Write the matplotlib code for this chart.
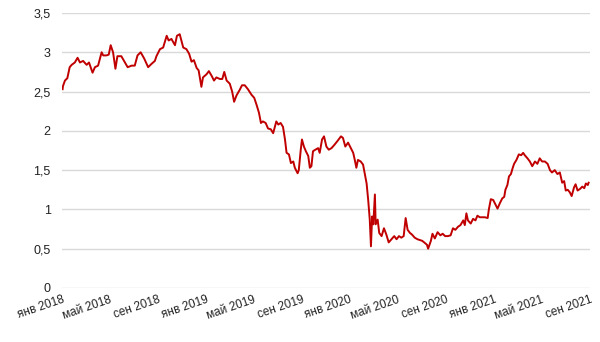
import matplotlib
matplotlib.use("Agg")
import matplotlib.pyplot as plt
import matplotlib.dates as mdates
import pandas as pd

# values
dates = [
    "2018-01-03", "2018-01-04", "2018-01-09", "2018-01-15", "2018-01-21", "2018-01-26",
    "2018-02-03", "2018-02-10", "2018-02-16", "2018-02-24", "2018-03-05", "2018-03-11",
    "2018-03-20", "2018-03-26", "2018-04-03", "2018-04-12", "2018-04-16", "2018-04-24",
    "2018-04-30", "2018-05-05", "2018-05-11", "2018-05-17", "2018-05-22", "2018-06-01",
    "2018-06-10", "2018-06-17", "2018-06-27", "2018-07-05", "2018-07-12", "2018-07-20",
    "2018-07-29", "2018-08-08", "2018-08-16", "2018-08-25", "2018-08-29", "2018-09-07",
    "2018-09-15", "2018-09-24", "2018-09-29", "2018-10-06", "2018-10-15", "2018-10-20",
    "2018-10-27", "2018-11-05", "2018-11-13", "2018-11-20", "2018-11-26", "2018-12-02",
    "2018-12-09", "2018-12-14", "2018-12-21", "2018-12-25", "2019-01-03", "2019-01-09",
    "2019-01-16", "2019-01-22", "2019-01-28", "2019-02-06", "2019-02-12", "2019-02-17",
    "2019-02-23", "2019-03-03", "2019-03-09", "2019-03-14", "2019-03-20", "2019-03-28",
    "2019-04-03", "2019-04-10", "2019-04-18", "2019-04-27", "2019-05-04", "2019-05-10",
    "2019-05-16", "2019-05-21", "2019-05-26", "2019-06-02", "2019-06-08", "2019-06-15",
    "2019-06-21", "2019-06-29", "2019-07-04", "2019-07-10", "2019-07-16", "2019-07-21",
    "2019-07-25", "2019-07-31", "2019-08-05", "2019-08-11", "2019-08-15", "2019-08-22",
    "2019-08-25", "2019-08-30", "2019-09-02", "2019-09-07", "2019-09-12", "2019-09-18",
    "2019-09-22", "2019-09-26", "2019-09-30", "2019-10-06", "2019-10-13", "2019-10-17",
    "2019-10-23", "2019-10-28", "2019-11-03", "2019-11-09", "2019-11-16", "2019-11-23",
    "2019-12-01", "2019-12-10", "2019-12-15", "2019-12-21", "2019-12-28", "2020-01-04",
    "2020-01-10", "2020-01-14", "2020-01-18", "2020-01-22", "2020-01-29", "2020-02-04",
    "2020-02-08", "2020-02-13", "2020-02-17", "2020-02-21", "2020-02-24", "2020-02-27",
    "2020-03-01", "2020-03-05", "2020-03-07", "2020-03-12", "2020-03-16", "2020-03-22",
    "2020-03-28", "2020-04-03", "2020-04-09", "2020-04-16", "2020-04-23", "2020-04-29",
    "2020-05-05", "2020-05-11", "2020-05-17", "2020-05-22", "2020-05-27", "2020-06-02",
    "2020-06-07", "2020-06-14", "2020-06-21", "2020-06-27", "2020-07-03", "2020-07-08",
    "2020-07-15", "2020-07-18", "2020-07-25", "2020-07-29", "2020-08-04", "2020-08-11",
    "2020-08-18", "2020-08-24", "2020-08-30", "2020-09-06", "2020-09-13", "2020-09-19",
    "2020-09-25", "2020-10-02", "2020-10-08", "2020-10-15", "2020-10-19", "2020-10-23",
    "2020-10-27", "2020-11-03", "2020-11-09", "2020-11-15", "2020-11-20", "2020-11-26",
    "2020-12-02", "2020-12-09", "2020-12-16", "2020-12-19", "2020-12-24", "2020-12-30",
    "2021-01-05", "2021-01-10", "2021-01-16", "2021-01-22", "2021-01-27", "2021-01-30",
    "2021-02-04", "2021-02-08", "2021-02-13", "2021-02-17", "2021-02-21", "2021-02-27",
    "2021-03-05", "2021-03-11", "2021-03-16", "2021-03-20", "2021-03-27", "2021-04-02",
    "2021-04-08", "2021-04-15", "2021-04-21", "2021-04-27", "2021-05-03", "2021-05-10",
    "2021-05-17", "2021-05-23", "2021-05-28", "2021-06-04", "2021-06-11", "2021-06-17",
    "2021-06-23", "2021-06-28", "2021-07-02", "2021-07-07", "2021-07-12", "2021-07-17",
    "2021-07-23", "2021-07-27", "2021-08-01", "2021-08-07", "2021-08-13", "2021-08-18",
    "2021-08-22", "2021-08-27", "2021-08-29",
]
values = [
    2.53, 2.57, 2.64, 2.67, 2.81, 2.84,
    2.87, 2.93, 2.87, 2.89, 2.84, 2.87,
    2.74, 2.81, 2.83, 3.00, 2.96, 2.96,
    2.97, 3.09, 3.00, 2.79, 2.95, 2.95,
    2.87, 2.81, 2.83, 2.83, 2.96, 3.00,
    2.92, 2.81, 2.85, 2.89, 2.95, 3.04,
    3.06, 3.21, 3.15, 3.17, 3.09, 3.21,
    3.23, 3.06, 3.04, 2.98, 2.88, 2.90,
    2.80, 2.77, 2.56, 2.68, 2.72, 2.76,
    2.70, 2.64, 2.68, 2.66, 2.66, 2.75,
    2.64, 2.60, 2.50, 2.37, 2.45, 2.52,
    2.58, 2.58, 2.53, 2.46, 2.42, 2.33,
    2.23, 2.10, 2.12, 2.10, 2.03, 2.02,
    1.97, 2.12, 2.08, 2.10, 2.05, 1.89,
    1.72, 1.70, 1.59, 1.61, 1.53, 1.46,
    1.50, 1.76, 1.89, 1.80, 1.74, 1.68,
    1.53, 1.55, 1.74, 1.76, 1.78, 1.72,
    1.89, 1.93, 1.80, 1.76, 1.78, 1.82,
    1.87, 1.93, 1.91, 1.80, 1.85, 1.78,
    1.72, 1.63, 1.53, 1.63, 1.61, 1.57,
    1.46, 1.33, 1.12, 0.87, 0.53, 0.91,
    0.81, 1.19, 0.81, 0.87, 0.70, 0.66,
    0.76, 0.68, 0.58, 0.62, 0.66, 0.62,
    0.66, 0.64, 0.66, 0.89, 0.74, 0.70,
    0.68, 0.64, 0.62, 0.61, 0.60, 0.58,
    0.55, 0.50, 0.60, 0.69, 0.63, 0.71,
    0.67, 0.69, 0.66, 0.66, 0.67, 0.76,
    0.74, 0.78, 0.80, 0.86, 0.80, 0.95,
    0.86, 0.82, 0.88, 0.86, 0.92, 0.90,
    0.90, 0.90, 0.89, 1.00, 1.13, 1.12,
    1.06, 1.01, 1.08, 1.14, 1.16, 1.25,
    1.31, 1.42, 1.45, 1.52, 1.58, 1.63,
    1.70, 1.69, 1.72, 1.69, 1.65, 1.61,
    1.55, 1.61, 1.58, 1.65, 1.61, 1.61,
    1.58, 1.50, 1.47, 1.50, 1.45, 1.47,
    1.34, 1.36, 1.24, 1.25, 1.22, 1.17,
    1.28, 1.32, 1.24, 1.26, 1.29, 1.27,
    1.33, 1.31, 1.34,
]
tick_dates = ["2018-01-01", "2018-05-01", "2018-09-01", "2019-01-01", "2019-05-01", "2019-09-01",
              "2020-01-01", "2020-05-01", "2020-09-01", "2021-01-01", "2021-05-01", "2021-09-01"]
tick_labels = ["янв 2018", "май 2018", "сен 2018", "янв 2019", "май 2019", "сен 2019",
               "янв 2020", "май 2020", "сен 2020", "янв 2021", "май 2021", "сен 2021"]
y_ticks = [0, 0.5, 1, 1.5, 2, 2.5, 3, 3.5]
y_labels = ["0", "0,5", "1", "1,5", "2", "2,5", "3", "3,5"]

plt.rcParams['font.family'] = ['Liberation Sans', 'DejaVu Sans']

x = pd.to_datetime(dates)
ticks = pd.to_datetime(tick_dates)

fig = plt.figure(figsize=(6, 3.42), dpi=100)
ax = fig.add_axes([0.103, 0.158, 0.880, 0.804])
ax.plot(x, values, color='#c00000', lw=1.4)

ax.set_ylim(0, 3.5)
ax.set_yticks(y_ticks)
ax.set_yticklabels(y_labels, fontsize=9, color='#222222')
ax.set_xlim(ticks[0], ticks[-1])
ax.set_xticks(ticks)
ax.set_xticklabels(tick_labels, fontsize=8.5, color='#222222', rotation=19,
                   ha='right', va='top', rotation_mode='anchor')
ax.grid(axis='y', color='#d9d9d9', lw=1)
ax.set_axisbelow(True)
ax.tick_params(length=0, pad=8)
ax.tick_params(axis='x', pad=4)
for s in ax.spines.values():
    s.set_visible(False)

plt.savefig("out.png", dpi=100)
plt.close()
